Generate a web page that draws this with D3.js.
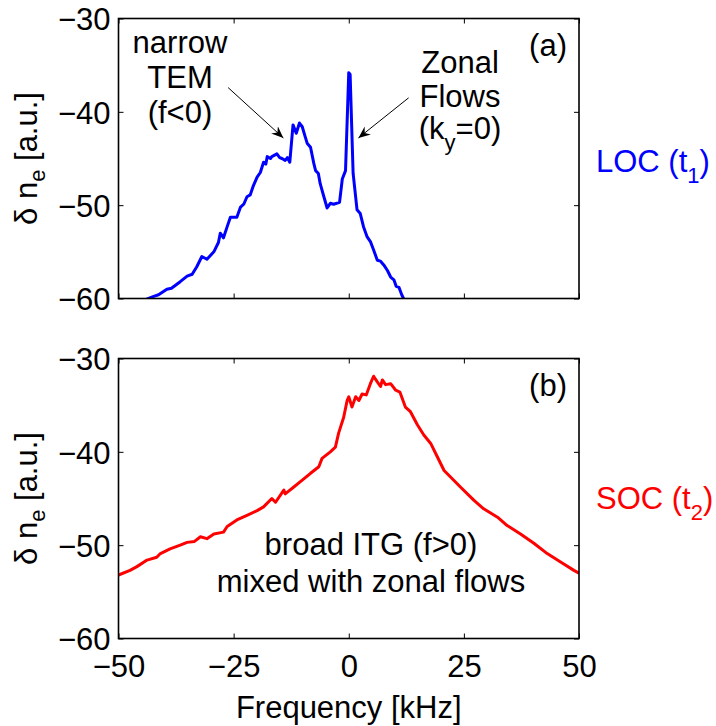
<!DOCTYPE html>
<html>
<head>
<meta charset="utf-8">
<script src="https://cdn.jsdelivr.net/npm/d3@7"></script>
<style>
  body { margin: 0; background: #fff; }
  text { font-family: "Liberation Sans", Arial, sans-serif; }
</style>
</head>
<body>
<div id="chart"></div>
<script>
// spectrum LOC (t1), panel (a)
var locFreq = [-44.0, -42.5, -41.3, -39.5, -38.5, -36.6, -35.1, -34.0, -33.0, -31.9, -30.8, -29.3, -28.3, -27.9, -27.2, -26.4, -25.7, -24.3, -23.5, -22.8, -22.1, -21.4, -20.7, -19.9, -19.2, -18.5, -18.0, -17.7, -17.0, -16.7, -15.6, -15.0, -14.5, -13.8, -13.3, -12.8, -12.1, -11.4, -10.7, -10.1, -9.5, -9.0, -8.3, -7.6, -7.2, -6.6, -6.2, -5.4, -4.7, -4.0, -3.3, -2.0, -1.4, -0.7, 0.0, 0.3, 0.95, 1.8, 2.5, 3.2, 4.0, 4.7, 5.4, 6.2, 6.9, 7.6, 8.4, 9.1, 9.8, 10.3, 10.9, 11.5, 12.3];
var locVal = [-60.1, -59.8, -59.6, -59.0, -58.9, -58.2, -57.6, -57.4, -56.6, -55.5, -55.8, -55.0, -54.0, -53.0, -53.5, -52.3, -51.3, -51.3, -50.2, -49.9, -49.1, -48.9, -47.9, -47.0, -46.5, -45.4, -45.6, -44.8, -45.0, -44.8, -44.5, -44.9, -45.0, -45.2, -44.9, -45.4, -41.4, -42.3, -41.2, -41.6, -42.6, -43.4, -43.8, -45.5, -46.3, -46.6, -47.7, -49.1, -50.3, -49.8, -49.9, -49.7, -47.2, -46.3, -35.8, -36.0, -46.6, -50.5, -50.9, -52.3, -53.4, -53.9, -54.8, -55.9, -56.0, -56.4, -57.0, -57.7, -58.0, -58.7, -58.8, -59.6, -60.4];

// spectrum SOC (t2), panel (b)
var socFreq = [-50.0, -47.5, -46.0, -43.8, -41.7, -40.9, -38.8, -36.6, -35.1, -33.5, -32.2, -30.8, -29.3, -27.2, -26.4, -24.3, -22.1, -19.9, -18.5, -16.7, -15.9, -14.1, -13.8, -12.0, -10.5, -8.3, -6.5, -5.8, -4.0, -2.9, -2.2, -1.1, -0.35, 0.0, 0.7, 1.5, 2.2, 2.9, 3.8, 4.7, 5.4, 6.2, 6.9, 7.3, 8.0, 9.1, 10.2, 11.1, 12.3, 13.4, 14.9, 16.3, 17.8, 19.2, 20.7, 22.1, 24.3, 27.2, 29.3, 32.3, 34.4, 37.3, 40.2, 43.1, 46.0, 48.9, 50.0];
var socVal = [-53.2, -52.7, -52.3, -51.6, -51.3, -50.9, -50.4, -50.0, -49.7, -49.6, -49.1, -49.3, -48.8, -48.6, -48.0, -47.3, -46.8, -46.3, -45.9, -45.0, -45.4, -44.1, -44.5, -43.8, -43.2, -42.3, -41.6, -40.7, -40.0, -39.5, -38.0, -36.3, -34.5, -34.1, -35.2, -34.1, -34.5, -33.8, -33.9, -32.7, -31.9, -32.5, -33.0, -32.3, -32.8, -32.7, -33.4, -33.6, -35.2, -35.7, -37.1, -38.2, -39.1, -40.5, -42.0, -42.7, -43.8, -45.2, -46.1, -47.0, -47.9, -48.8, -49.8, -50.9, -51.8, -52.7, -53.0];

var xTicks = [-50, -25, 0, 25, 50];
var yTicks = [-60, -50, -40, -30];

var width = 716, height = 726;
var fs = 31, subFs = 22;

var svg = d3.select("#chart")
    .append("svg")
    .attr("width", width)
    .attr("height", height);

svg.append("defs").append("marker")
    .attr("id", "head")
    .attr("viewBox", "-12 -6 14 12")
    .attr("markerWidth", 14)
    .attr("markerHeight", 12)
    .attr("markerUnits", "userSpaceOnUse")
    .attr("refX", 0)
    .attr("refY", 0)
    .attr("orient", "auto")
    .append("path")
    .attr("d", "M0,0 L-12,-5 L-8,0 L-12,5 Z")
    .attr("fill", "#000");

var x = d3.scaleLinear().domain([-50, 50]).range([118.5, 579]);

function panel(top, bottom, freq, vals, color, id, showX) {
    var y = d3.scaleLinear().domain([-60, -30]).range([bottom, top]);
    var g = svg.append("g");

    g.append("clipPath").attr("id", "clip" + id)
        .append("rect")
        .attr("x", x(-50)).attr("y", top)
        .attr("width", x(50) - x(-50)).attr("height", bottom - top);

    var pts = freq.map(function (f, i) { return [f, vals[i]]; });
    var line = d3.line()
        .x(function (d) { return x(d[0]); })
        .y(function (d) { return y(d[1]); });

    g.append("path")
        .attr("d", line(pts))
        .attr("clip-path", "url(#clip" + id + ")")
        .attr("fill", "none")
        .attr("stroke", color)
        .attr("stroke-width", 3)
        .attr("stroke-linejoin", "round");

    // left axis with labels
    var ax = g.append("g")
        .attr("transform", "translate(" + x(-50) + ",0)")
        .call(d3.axisLeft(y).tickValues(yTicks).tickSize(-5).tickPadding(8).tickFormat(d3.format("d")));
    // right, top, bottom: ticks only (inside)
    g.append("g").attr("transform", "translate(" + x(50) + ",0)")
        .call(d3.axisRight(y).tickValues(yTicks).tickSize(-5).tickFormat(""));
    g.append("g").attr("transform", "translate(0," + top + ")")
        .call(d3.axisTop(x).tickValues(xTicks).tickSize(-5).tickFormat(""));
    var bx = g.append("g").attr("transform", "translate(0," + bottom + ")")
        .call(d3.axisBottom(x).tickValues(xTicks).tickSize(-5).tickPadding(16)
            .tickFormat(showX ? d3.format("d") : ""));

    g.selectAll(".domain").remove();
    g.selectAll(".tick line").attr("stroke", "#000").attr("stroke-width", 1);
    g.selectAll(".tick text")
        .style("font-family", "'Liberation Sans', Arial, sans-serif")
        .style("font-size", fs + "px")
        .attr("fill", "#000");
    ax.selectAll(".tick text").attr("dy", "0.36em");
    bx.selectAll(".tick text").attr("dy", "0.72em");

    g.append("rect")
        .attr("x", x(-50)).attr("y", top)
        .attr("width", x(50) - x(-50)).attr("height", bottom - top)
        .attr("fill", "none")
        .attr("stroke", "#000")
        .attr("stroke-width", 1.6);

    // y label
    var yl = g.append("text")
        .attr("transform", "translate(37," + ((top + bottom) / 2) + ") rotate(-90)")
        .attr("text-anchor", "middle")
        .style("font-size", fs + "px");
    yl.append("tspan").text("δ n");
    yl.append("tspan").attr("dy", 8).style("font-size", subFs + "px").text("e");
    yl.append("tspan").attr("dy", -8).text(" [a.u.]");

    return y;
}

var yA = panel(18.5, 298.5, locFreq, locVal, "#0000ff", "a", false);
var yB = panel(358.5, 638.5, socFreq, socVal, "#ff0000", "b", true);

// panel tags
svg.append("text").attr("x", 567).attr("y", 56).attr("text-anchor", "end")
    .style("font-size", fs + "px").text("(a)");
svg.append("text").attr("x", 567).attr("y", 396).attr("text-anchor", "end")
    .style("font-size", fs + "px").text("(b)");

// annotations panel (a)
function lines(cx, baselines, texts) {
    texts.forEach(function (t, i) {
        svg.append("text").attr("x", cx).attr("y", baselines[i])
            .attr("text-anchor", "middle").style("font-size", fs + "px").text(t);
    });
}
lines(180, [53, 88, 123], ["narrow", "TEM", "(f<0)"]);
lines(460, [73, 107], ["Zonal", "Flows"]);
var ky = svg.append("text").attr("x", 460).attr("y", 139).attr("text-anchor", "middle")
    .style("font-size", fs + "px");
ky.append("tspan").text("(k");
ky.append("tspan").attr("dy", 11).style("font-size", subFs + "px").text("y");
ky.append("tspan").attr("dy", -11).text("=0)");

svg.append("line")
    .attr("x1", x(-26.2)).attr("y1", yA(-37.4))
    .attr("x2", x(-14.2)).attr("y2", yA(-42.8))
    .attr("stroke", "#000").attr("stroke-width", 1)
    .attr("marker-end", "url(#head)");
svg.append("line")
    .attr("x1", x(13.0)).attr("y1", yA(-38.5))
    .attr("x2", x(2.1)).attr("y2", yA(-42.8))
    .attr("stroke", "#000").attr("stroke-width", 1)
    .attr("marker-end", "url(#head)");

// annotations panel (b)
lines(371, [555, 592], ["broad ITG (f>0)", "mixed with zonal flows"]);

// right-side labels
var loc = svg.append("text").attr("x", 596).attr("y", 172).attr("fill", "#0000ff")
    .style("font-size", fs + "px");
loc.append("tspan").text("LOC (t");
loc.append("tspan").attr("dy", 11).style("font-size", subFs + "px").text("1");
loc.append("tspan").attr("dy", -11).text(")");

var soc = svg.append("text").attr("x", 596).attr("y", 509).attr("fill", "#ff0000")
    .style("font-size", fs + "px");
soc.append("tspan").text("SOC (t");
soc.append("tspan").attr("dy", 11).style("font-size", subFs + "px").text("2");
soc.append("tspan").attr("dy", -11).text(")");

// x label
svg.append("text").attr("x", (x(-50) + x(50)) / 2).attr("y", 718)
    .attr("text-anchor", "middle").style("font-size", fs + "px")
    .text("Frequency [kHz]");
</script>
</body>
</html>
